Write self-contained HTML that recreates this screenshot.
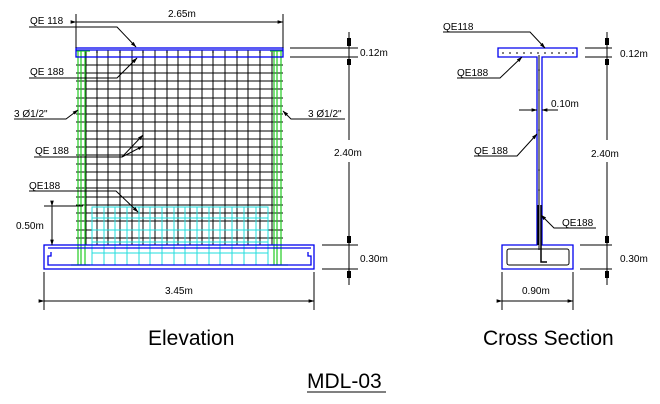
<!DOCTYPE html>
<html><head><style>
body{margin:0;background:#fff}
svg{display:block}
text{font-family:"Liberation Sans",sans-serif;fill:#000}
</style></head><body>
<svg width="660" height="404" viewBox="0 0 660 404" xmlns="http://www.w3.org/2000/svg">
<defs>
<marker id="a" viewBox="0 0 10 10" refX="9" refY="5" markerWidth="6" markerHeight="6" orient="auto"><path d="M0,2 L10,5 L0,8z" fill="#000"/></marker>
</defs>
<g stroke="#000" stroke-width="1" fill="none">
<g>
<line x1="86" y1="50" x2="86" y2="245"/><line x1="97" y1="50" x2="97" y2="245"/><line x1="108" y1="50" x2="108" y2="245"/><line x1="120" y1="50" x2="120" y2="245"/><line x1="132" y1="50" x2="132" y2="245"/><line x1="143" y1="50" x2="143" y2="245"/><line x1="155" y1="50" x2="155" y2="245"/><line x1="167" y1="50" x2="167" y2="245"/><line x1="178" y1="50" x2="178" y2="245"/><line x1="190" y1="50" x2="190" y2="245"/><line x1="202" y1="50" x2="202" y2="245"/><line x1="213" y1="50" x2="213" y2="245"/><line x1="225" y1="50" x2="225" y2="245"/><line x1="237" y1="50" x2="237" y2="245"/><line x1="248" y1="50" x2="248" y2="245"/><line x1="260" y1="50" x2="260" y2="245"/><line x1="272" y1="50" x2="272" y2="245"/>
</g>
<path d="M76 65H283M76 73H283M76 81H283M76 89H283M76 98H283M76 106H283M76 114H283M76 122H283M76 131H283M76 139H283M76 147H283M76 155H283M76 164H283M76 172H283M76 180H283M76 188H283M76 197H283M76 205H283M76 213H283M76 221H283M76 230H283M76 238H283"/>
</g>
<g stroke="#22cc22" stroke-width="1.2">
<line x1="78" y1="51" x2="78" y2="265"/><line x1="81" y1="51" x2="81" y2="265"/><line x1="85" y1="51" x2="85" y2="265"/>
<line x1="274" y1="51" x2="274" y2="265"/><line x1="277" y1="51" x2="277" y2="265"/><line x1="281" y1="51" x2="281" y2="265"/>
<line x1="71" y1="265" x2="90" y2="265"/><line x1="270" y1="265" x2="288" y2="265"/>
<line x1="76" y1="51" x2="90" y2="51"/><line x1="270" y1="51" x2="283" y2="51"/>
</g>
<g stroke="#22dddd" stroke-width="1" fill="none">
<rect x="92" y="207" width="176" height="58"/>
<path d="M92 218H268M92 230H268M92 242H268M92 253H268"/>
<path d="M104 207V265M115 207V265M127 207V265M139 207V265M150 207V265M162 207V265M174 207V265M185 207V265M197 207V265M209 207V265M220 207V265M232 207V265M244 207V265M256 207V265"/>
</g>
<g stroke="#0000ee" stroke-width="1.3" fill="none">
<rect x="76" y="48" width="207" height="9"/>
<line x1="76" y1="50" x2="283" y2="50"/>
<rect x="44" y="245" width="270" height="24"/>
<path d="M51 252V256H48V265H311V256H308V252"/>
<line x1="48" y1="248" x2="311" y2="248"/>
</g>
<g fill="#000"><circle cx="97" cy="52" r="0.8"/><circle cx="120" cy="52" r="0.8"/><circle cx="143" cy="52" r="0.8"/><circle cx="167" cy="52" r="0.8"/><circle cx="190" cy="52" r="0.8"/><circle cx="213" cy="52" r="0.8"/><circle cx="237" cy="52" r="0.8"/><circle cx="260" cy="52" r="0.8"/></g>
<g stroke="#000" stroke-width="1" fill="none">
<line x1="76" y1="14" x2="76" y2="48"/><line x1="283" y1="14" x2="283" y2="48"/>
<line x1="76" y1="22" x2="283" y2="22" marker-start="url(#a)" marker-end="url(#a)"/>
<line x1="44" y1="272" x2="44" y2="310"/><line x1="314" y1="272" x2="314" y2="310"/>
<line x1="44" y1="301" x2="314" y2="301" marker-start="url(#a)" marker-end="url(#a)"/>
<line x1="44" y1="206" x2="83" y2="206"/>
<line x1="52" y1="206" x2="52" y2="245" marker-start="url(#a)" marker-end="url(#a)"/>
<line x1="290" y1="48" x2="358" y2="48"/><line x1="290" y1="57" x2="358" y2="57"/>
<line x1="322" y1="245" x2="358" y2="245"/><line x1="322" y1="269" x2="358" y2="269"/>
<line x1="349" y1="32" x2="349" y2="140"/><line x1="349" y1="162" x2="349" y2="285"/>
<path d="M347 38h4v8h-4zM347 59h4v6h-4zM347 236h4v7h-4zM347 271h4v7h-4z" fill="#000" stroke="none"/>
<path d="M29 27H117L136 47" marker-end="url(#a)"/>
<path d="M29 78H117L137 58" marker-end="url(#a)"/>
<path d="M14 119H66L78 110" marker-end="url(#a)"/>
<path d="M345 119H291L283 111" marker-end="url(#a)"/>
<path d="M34 157H122L143 135" marker-end="url(#a)"/>
<path d="M122 157L143 146" marker-end="url(#a)"/>
<path d="M29 191H116L138 212" marker-end="url(#a)"/>
</g>
<g font-size="10">
<text x="168" y="17">2.65m</text>
<text x="30" y="24">QE 118</text>
<text x="30" y="75">QE 188</text>
<text x="14" y="117">3 Ø1/2"</text>
<text x="308" y="117">3 Ø1/2"</text>
<text x="35" y="154">QE 188</text>
<text x="29" y="189">QE188</text>
<text x="16" y="229">0.50m</text>
<text x="165" y="294">3.45m</text>
<text x="360" y="56">0.12m</text>
<text x="334" y="156">2.40m</text>
<text x="360" y="262">0.30m</text>
</g>
<g stroke="#0000ee" stroke-width="1.3" fill="none">
<path d="M498 48H577V57H542V245H573V269H502V245H537V57H498Z"/>
</g>
<g stroke="#000" stroke-width="1" fill="none">
<rect x="507" y="249" width="62" height="16" rx="2"/>
<line x1="539" y1="55" x2="539" y2="250"/>
<path d="M538 205V245M541 205V262H547" stroke-width="1.5"/>
<line x1="502" y1="53" x2="574" y2="53" stroke-dasharray="2 5"/>
<line x1="585" y1="48" x2="612" y2="48"/><line x1="585" y1="57" x2="612" y2="57"/>
<line x1="580" y1="245" x2="612" y2="245"/><line x1="580" y1="269" x2="612" y2="269"/>
<line x1="607" y1="32" x2="607" y2="140"/><line x1="607" y1="162" x2="607" y2="285"/>
<path d="M605 38h4v7h-4zM605 59h4v6h-4zM605 236h4v7h-4zM605 271h4v7h-4z" fill="#000" stroke="none"/>
<line x1="502" y1="272" x2="502" y2="310"/><line x1="573" y1="272" x2="573" y2="310"/>
<line x1="502" y1="301" x2="573" y2="301" marker-start="url(#a)" marker-end="url(#a)"/>
<line x1="519" y1="110" x2="537" y2="110" marker-end="url(#a)"/>
<line x1="558" y1="110" x2="542" y2="110" marker-end="url(#a)"/>
<path d="M443 32H530L545 48" marker-end="url(#a)"/>
<path d="M457 78H500L522 57" marker-end="url(#a)"/>
<path d="M474 156H517L537 134" marker-end="url(#a)"/>
<path d="M596 228H554L541 215" marker-end="url(#a)"/>
</g>
<g fill="#000"><circle cx="539" cy="70" r="0.8"/><circle cx="539" cy="90" r="0.8"/><circle cx="539" cy="130" r="0.8"/><circle cx="539" cy="170" r="0.8"/><circle cx="539" cy="190" r="0.8"/></g>
<g font-size="10">
<text x="443" y="30">QE118</text>
<text x="457" y="76">QE188</text>
<text x="551" y="107">0.10m</text>
<text x="474" y="154">QE 188</text>
<text x="562" y="226">QE188</text>
<text x="620" y="57">0.12m</text>
<text x="591" y="157">2.40m</text>
<text x="620" y="262">0.30m</text>
<text x="522" y="294">0.90m</text>
</g>
<g font-size="21">
<text x="148" y="345">Elevation</text>
<text x="483" y="345">Cross Section</text>
<text x="307" y="388">MDL-03</text>
</g>
<line x1="307" y1="392" x2="386" y2="392" stroke="#000" stroke-width="1"/>
</svg>
</body></html>
